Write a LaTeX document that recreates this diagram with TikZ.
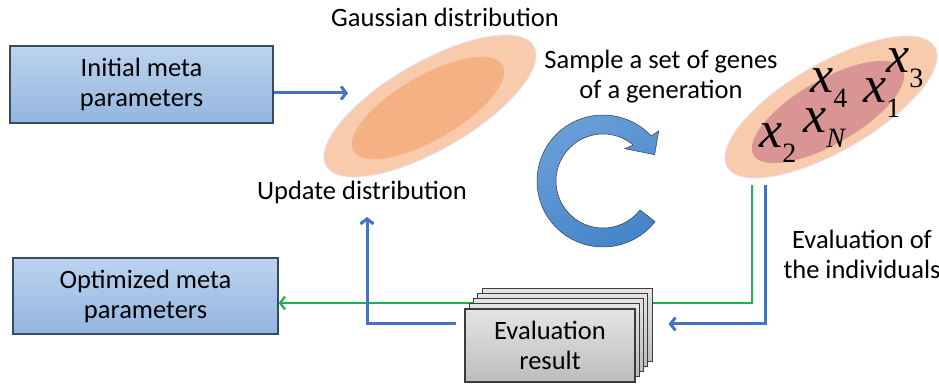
\documentclass[tikz,border=0pt]{standalone}
\usepackage{fontspec}
\setmainfont{Carlito}
\newfontfamily\genefont{Liberation Serif}
\usetikzlibrary{arrows.meta,shapes.geometric}

\definecolor{paramtop}{HTML}{BCD3EE}
\definecolor{parambot}{HTML}{93B5E0}
\definecolor{paramline}{HTML}{3A4A60}
\definecolor{evaltop}{HTML}{E4E4E4}
\definecolor{evalbot}{HTML}{BDBDBD}
\definecolor{evalline}{HTML}{3C3C3C}
\definecolor{peachout}{HTML}{F8CBAD}
\definecolor{peachin}{HTML}{F4B183}
\definecolor{rosein}{HTML}{D99594}
\definecolor{bluelink}{HTML}{4472C4}
\definecolor{greenlink}{HTML}{21B04B}
\definecolor{looplt}{HTML}{6A9FD8}
\definecolor{loopdk}{HTML}{4484CA}

% gene label: italic x with a lowered index
\newcommand{\gene}[1]{{\genefont\itshape x}\raisebox{-15pt}{\genefont\fontsize{28}{28}\selectfont #1}}

\begin{document}
\begin{tikzpicture}[x=1pt, y=1pt,
    every node/.style={font=\fontsize{26.5}{30}\selectfont},
    parambox/.style={draw=paramline, line width=1.3pt, top color=paramtop, bottom color=parambot, minimum width=263, minimum height=77, align=center},
    evalbox/.style={draw=evalline, line width=1.1pt, top color=evaltop, bottom color=evalbot, minimum width=170, minimum height=73, align=center},
    blueline/.style={draw=bluelink, line width=3pt},
    greenline/.style={draw=greenlink, line width=2.2pt},
    linktip/.style={-{Straight Barb[length=5pt, width=13pt]}},
    genelbl/.style={anchor=base west, inner sep=0, font=\genefont\fontsize{52}{52}\selectfont}]
    \useasboundingbox (0,0) rectangle (939,385);

    % Gaussian distribution
    \node[ellipse, minimum width=240, minimum height=88, inner sep=0, rotate=30, fill=peachout, draw=blue!10, line width=0.8pt] (gauss) at (430,279) {};
    \node[ellipse, minimum width=172, minimum height=64, inner sep=0, rotate=30, fill=peachin] (gausscore) at (428,277) {};
    \node (gausslbl) at (445,368) {Gaussian distribution};
    \node (updlbl) at (362,193) {Update distribution};

    % Sampled population
    \node[ellipse, minimum width=240, minimum height=88, inner sep=0, rotate=30, fill=peachout, draw=blue!10, line width=0.8pt] (pop) at (831,278) {};
    \node[ellipse, minimum width=172, minimum height=64, inner sep=0, rotate=30, fill=rosein] (popcore) at (828,273) {};
    \node[genelbl] (g3) at (886,312) {\gene{3}};
    \node[genelbl] (g4) at (810,292) {\gene{4}};
    \node[genelbl] (g1) at (863,282) {\gene{1}};
    \node[genelbl] (gN) at (803,252) {\gene{\itshape N}};
    \node[genelbl] (g2) at (759,237) {\gene{2}};
    \node[align=center] (samplelbl) at (661,308) {Sample a set of genes\\of a generation};
    \node[align=center] (evallbl) at (862,131) {Evaluation of\\the individuals};

    % Loop arrow
    \begin{scope}[shift={(603,204)}]
        \draw[evalline, line width=0.5pt, top color=looplt, bottom color=loopdk, shading angle=30]
            (-38:66) arc[start angle=-38, end angle=-317, radius=66]
            -- (42:75) -- (27:58) -- (56:39) -- (50:47)
            arc[start angle=-310, end angle=-38, radius=47] -- cycle;
    \end{scope}

    % Meta parameter boxes
    \node[parambox] (init) at (141.5,300.5) {Initial meta\\parameters};
    \node[parambox, minimum width=265, minimum height=76] (opt) at (145.5,89) {Optimized meta\\parameters};
    \coordinate (gin) at (348,292);
    \draw[blueline, linktip] ([yshift=-8.5]init.east) -- (gin);

    % Evaluation links
    \coordinate (gtop) at (752,200);
    \coordinate (btop) at (765,200);
    \coordinate (upd) at (367,168);
    \draw[greenline, linktip] (gtop) |- ([yshift=-7]opt.east);

    % Evaluation results (stack)
    \foreach \i in {4,3,2,1} {
        \node[evalbox] (stack\i) at (550+4.3*\i,39.5+5.2*\i) {};
    }
    \node[evalbox] (eval) at (550,39.5) {Evaluation\\result};
    \draw[blueline, linktip] (btop) |- ([shift={(33,21.5)}]eval.east);
    \draw[blueline, linktip] ([shift={(-8,21.5)}]eval.west) -| (upd);
\end{tikzpicture}
\end{document}
